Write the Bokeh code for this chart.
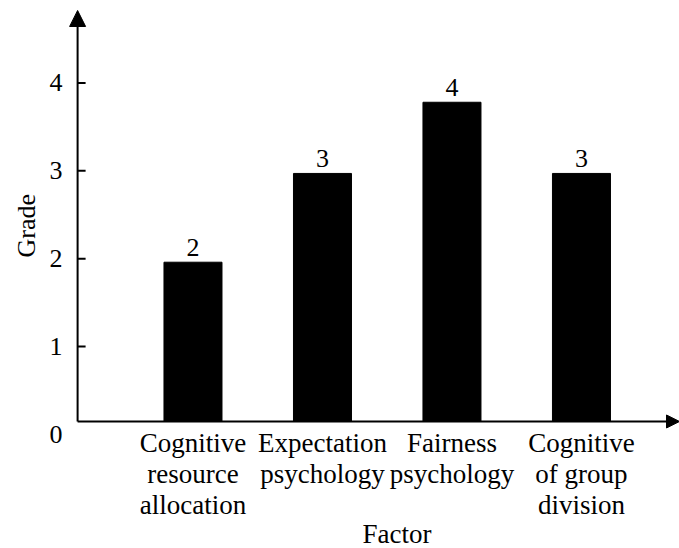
from bokeh.plotting import figure
from bokeh.models import Range1d, FixedTicker, Arrow, NormalHead, ColumnDataSource, Title
from bokeh.core.properties import value
from bokeh.embed import file_html
from bokeh.resources import INLINE

# ---- data ----
categories = ["Cognitive\nresource\nallocation", "Expectation\npsychology",
              "Fairness\npsychology", "Cognitive\nof group\ndivision"]
grades = [1.96, 2.97, 3.78, 2.97]
grade_labels = ["2", "3", "4", "3"]
y_ticks = [0, 1, 2, 3, 4]
x_title = "Factor"
y_title = "Grade"

FONT = "Liberation Serif"
positions = list(range(len(categories)))
# view / axis geometry (data units)
X_START, X_END = -0.969, 3.757
Y_START, Y_END = -0.023, 4.915
X_AXIS = -0.891      # where the y axis line sits
Y_AXIS = 0.148       # where the x axis line sits (bar baseline)
Y_TIP = 4.824        # tip of the y arrow

src = ColumnDataSource(dict(x=positions, grade=grades, label=grade_labels))

p = figure(width=679, height=548,
           x_range=Range1d(X_START, X_END), y_range=Range1d(Y_START, Y_END),
           output_backend="svg", toolbar_location=None,
           min_border_left=67, min_border_right=0, min_border_top=2, min_border_bottom=112)
p.outline_line_color = None
p.grid.visible = False
p.background_fill_color = "white"

p.vbar(x="x", top="grade", bottom=Y_AXIS, width=0.448, source=src,
       fill_color="black", line_color="black")
p.text(x="x", y="grade", text="label", source=src, text_align="center",
       text_baseline="alphabetic", y_offset=-15, text_font=value(FONT),
       text_font_size="26px", text_color="black")

# y tick marks (inside, starting at the y axis line)
p.ray(x=X_AXIS, y=[t for t in y_ticks if t > Y_AXIS], length=8, length_units="screen",
      angle=0, line_width=2, line_color="black")

xa = p.xaxis[0]
xa.ticker = FixedTicker(ticks=positions)
xa.major_label_overrides = {i: c for i, c in enumerate(categories)}
xa.major_tick_line_color = None
xa.major_tick_in = 0
xa.major_tick_out = 0
xa.minor_tick_line_color = None
xa.axis_line_color = None
xa.major_label_text_font = FONT
xa.major_label_text_font_size = "27px"
xa.major_label_text_color = "black"
xa.major_label_text_line_height = 1.04
xa.major_label_standoff = -9

ya = p.yaxis[0]
ya.ticker = FixedTicker(ticks=y_ticks)
ya.major_tick_in = 0
ya.major_tick_out = 0
ya.major_tick_line_color = None
ya.minor_tick_line_color = None
ya.axis_line_color = None
ya.major_label_standoff = 5
ya.major_label_text_font = FONT
ya.major_label_text_font_size = "26px"
ya.major_label_text_color = "black"

p.add_layout(Title(text=y_title, align="left", offset=179, standoff=11,
                   text_font=FONT, text_font_size="26px", text_font_style="normal",
                   text_color="black"), "left")
p.add_layout(Title(text=x_title, align="left", offset=295, standoff=-12,
                   text_font=FONT, text_font_size="27px", text_font_style="normal",
                   text_color="black"), "below")

p.add_layout(Arrow(end=NormalHead(size=16, fill_color="black", line_color="black"),
                   x_start=X_AXIS, y_start=Y_AXIS, x_end=X_AXIS, y_end=Y_TIP,
                   line_width=2, line_color="black"))
p.add_layout(Arrow(end=NormalHead(size=13, fill_color="black", line_color="black"),
                   x_start=X_AXIS, y_start=Y_AXIS, x_end=X_END, y_end=Y_AXIS,
                   line_width=2, line_color="black"))

open("out.html", "w").write(file_html(p, INLINE))
